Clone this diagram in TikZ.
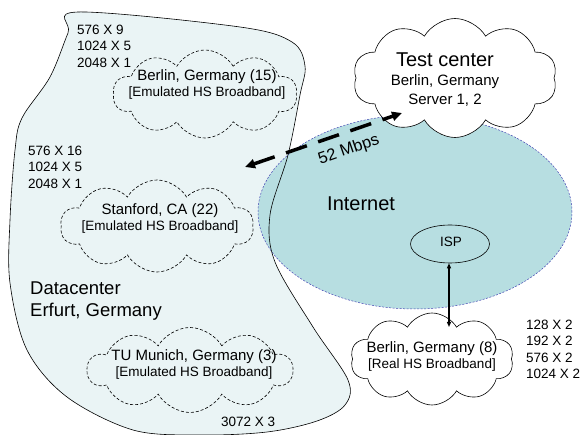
\documentclass[tikz,border=0pt]{standalone}
\usepackage{fontspec}
\setmainfont{Liberation Sans}
\usepackage{tikz}
\usetikzlibrary{arrows.meta, shapes, positioning}
\usepackage{xcolor}
\definecolor{dcblue}{RGB}{234,244,245}
\definecolor{netteal}{RGB}{183,222,225}
\definecolor{netedge}{RGB}{70,70,180}
\tikzset{siteclouddashed/.style={cloud, cloud puffs=10, cloud puff arc=120, cloud ignores aspect, draw=black, dash pattern=on 3pt off 2pt, line width=0.6pt, inner sep=0pt},sitecloud/.style={cloud, cloud puffs=10, cloud puff arc=120, cloud ignores aspect, draw=black, fill=white, line width=0.6pt, inner sep=0pt}}
\newcommand{\datacenterpath}{plot[smooth cycle, tension=0.55] coordinates {(78,12) (240,27) (292,42) (305,66) (300,95) (288,155) (270,215) (275,262) (313,327) (348,380) (345,405) (317,421) (267,432) (200,435) (133,430) (67,397) (27,350) (10,283) (10,220) (15,150) (22,118) (50,77) (68,33)}}

\begin{document}
\begin{tikzpicture}[
        x=1pt, y=-1pt,
        countlabel/.style={anchor=north west, align=left, inner sep=0pt, font=\fontsize{13.5}{16.3}\selectfont},
        bigtext/.style={anchor=north west, align=left, inner sep=0pt, font=\fontsize{18.5}{22}\selectfont},
        cloudtext/.style={align=center, inner sep=0pt, font=\fontsize{13.5}{16}\selectfont},
        linkarrow/.style={{Triangle[length=10pt, width=9pt]}-{Triangle[length=10pt, width=9pt]}, line width=3.5pt, dash pattern=on 22pt off 12pt},
        isparrow/.style={{Triangle[length=5pt, width=4pt]}-{Triangle[length=5pt, width=4pt]}, line width=1.2pt}
    ]
        \useasboundingbox (0,0) rectangle (581,435);
        % Datacenter area
        \fill[dcblue] \datacenterpath;
        % Internet
        \node[ellipse, fill=netteal, draw=netedge, dash pattern=on 2pt off 1.5pt, line width=0.5pt, minimum width=314pt, minimum height=194pt] (internet) at (415,212) {};
        \draw[black, line width=0.6pt] \datacenterpath;
        \node[ellipse, draw=black, line width=0.6pt, minimum width=79pt, minimum height=38pt, inner sep=0pt] (isp) at (450,244) {};
        \node[inner sep=0pt, font=\fontsize{13.5}{16}\selectfont] (isptext) at (451,242) {ISP};
        \node[anchor=north west, inner sep=0pt, font=\fontsize{20}{24}\selectfont] (internettext) at (327,197) {Internet};
        % Clouds
        \node[siteclouddashed, minimum width=184pt, minimum height=88pt] (berlinemu) at (205,94) {};
        \node[siteclouddashed, minimum width=193pt, minimum height=92pt] (stanford) at (157,226) {};
        \node[siteclouddashed, minimum width=205pt, minimum height=85pt] (munich) at (190,370) {};
        \node[sitecloud, minimum width=163pt, minimum height=92pt] (berlinreal) at (432,359) {};
        \node[sitecloud, minimum width=204pt, minimum height=119pt] (testcenter) at (455,78) {};
        % Cloud texts
        \node[cloudtext] (berlinemutext) at (207,84) {{\fontsize{15}{16}\selectfont Berlin, Germany (15)}\\{}[Emulated HS Broadband]};
        \node[cloudtext] (stanfordtext) at (160,218) {{\fontsize{15}{16}\selectfont Stanford, CA (22)}\\{}[Emulated HS Broadband]};
        \node[cloudtext] (munichtext) at (194,364) {{\fontsize{15}{16}\selectfont TU Munich, Germany (3)}\\{}[Emulated HS Broadband]};
        \node[cloudtext] (berlinrealtext) at (432,356) {{\fontsize{15}{16}\selectfont Berlin, Germany (8)}\\{}[Real HS Broadband]};
        \node[cloudtext, font=\fontsize{15}{19}\selectfont] (testcentertext) at (445,80) {{\fontsize{20}{22}\selectfont Test center}\\Berlin, Germany\\Server 1, 2};
        % Counts
        \node[countlabel] (countberlin) at (77,25) {576 X 9\\1024 X 5\\2048 X 1};
        \node[countlabel] (countstanford) at (28,146) {576 X 16\\1024 X 5\\2048 X 1};
        \node[countlabel] (countmunich) at (221,417) {3072 X 3};
        \node[countlabel] (countreal) at (526,320) {128 X 2\\192 X 2\\576 X 2\\1024 X 2};
        \node[bigtext] (datacenter) at (30,282) {Datacenter\\Erfurt, Germany};
        % Links
        \coordinate (dcport) at (245,167);
        \coordinate (tcport) at (402,113);
        \draw[linkarrow] (dcport) -- (tcport);
        \node[rotate=19, inner sep=0pt, font=\fontsize{16.5}{18}\selectfont] (linkspeed) at (349,150) {52 Mbps};
        \coordinate (realport) at (449,327);
        \draw[isparrow] (isp.south -| realport) -- (realport);
    \end{tikzpicture}
\end{document}
